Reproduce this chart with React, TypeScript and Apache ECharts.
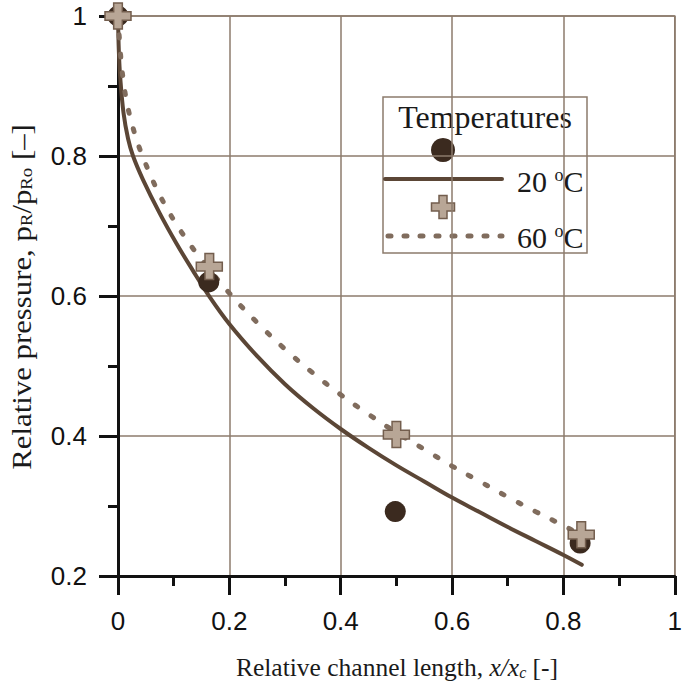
import React, { useEffect, useRef } from "react";
import * as echarts from "echarts";

// Measured points, 20 °C (circles)
const meas20X = [0, 0.163, 0.498, 0.83];
const meas20Y = [1, 0.62, 0.292, 0.247];
// Measured points, 60 °C (crosses)
const meas60X = [0, 0.164, 0.5, 0.832];
const meas60Y = [1, 0.642, 0.402, 0.259];

// Model curve, 20 °C (solid)
const curve20X = [0, 0.0015, 0.004, 0.01, 0.018, 0.027, 0.045, 0.075, 0.105, 0.134, 0.161, 0.2, 0.25, 0.3, 0.35, 0.4, 0.45, 0.5, 0.55, 0.6, 0.65, 0.7, 0.75, 0.8, 0.833];
const curve20Y = [1, 0.95, 0.912, 0.861, 0.825, 0.8, 0.766, 0.718, 0.675, 0.637, 0.603, 0.56, 0.514, 0.474, 0.44, 0.41, 0.383, 0.358, 0.335, 0.312, 0.291, 0.27, 0.25, 0.23, 0.216];

// Model curve, 60 °C (dotted)
const curve60X = [0, 0.004, 0.009, 0.016, 0.025, 0.036, 0.048, 0.063, 0.077, 0.093, 0.111, 0.129, 0.15, 0.2, 0.25, 0.3, 0.35, 0.4, 0.45, 0.5, 0.55, 0.6, 0.65, 0.7, 0.75, 0.8, 0.833];
const curve60Y = [1, 0.951, 0.911, 0.876, 0.846, 0.817, 0.792, 0.764, 0.741, 0.718, 0.695, 0.674, 0.652, 0.604, 0.562, 0.524, 0.49, 0.459, 0.431, 0.405, 0.381, 0.357, 0.335, 0.313, 0.292, 0.272, 0.258];

const legendTitle = "Temperatures";
const legendLabels = ["20 {sup|o}C", "60 {sup|o}C"];

const SOLID = "#5b4636";
const DOT = "#806c5d";
const CIRCLE = "#3b2a1f";
const PLUS_FILL = "#b8a696";
const PLUS_STROKE = "#735e4e";
const GRID = "#8c7b6c";
const SANS = "Liberation Sans";
const SERIF = "Liberation Serif";

const PLUS_PATH = "path://M8,0 H16 V8 H24 V16 H16 V24 H8 V16 H0 V8 H8 Z";

const zip = (xs: number[], ys: number[]) => xs.map((x, i) => [x, ys[i]]);

function plusPoints(cx: number, cy: number, s: number, t: number) {
  const h = s / 2;
  const a = t / 2;
  return [
    [cx - a, cy - h], [cx + a, cy - h], [cx + a, cy - a], [cx + h, cy - a],
    [cx + h, cy + a], [cx + a, cy + a], [cx + a, cy + h], [cx - a, cy + h],
    [cx - a, cy + a], [cx - h, cy + a], [cx - h, cy - a], [cx - a, cy - a],
  ];
}

export default function App() {
  const ref = useRef<HTMLDivElement>(null);
  useEffect(() => {
    if (!ref.current) return;
    const chart = echarts.init(ref.current, undefined, { renderer: "svg" });
    const axisCommon = {
      type: "value",
      min: 0,
      interval: 0.2,
      axisLine: { show: true, onZero: false, lineStyle: { color: "#111", width: 3 } },
      axisTick: { show: true, inside: false, length: 19, lineStyle: { color: "#111", width: 3 } },
      minorTick: { show: true, splitNumber: 2, length: 10, lineStyle: { color: "#111", width: 3 } },
      splitLine: { show: true, lineStyle: { color: GRID, width: 1.5 } },
      axisLabel: {
        color: "#111",
        fontFamily: SANS,
        fontSize: 26,
        formatter: (v: number) => String(Math.round(v * 10) / 10),
      },
    };
    const option: any = {
      animation: false,
      backgroundColor: "#ffffff",
      grid: {
        left: 118,
        right: 7,
        top: 16,
        bottom: 111,
        show: true,
        borderColor: GRID,
        borderWidth: 1.5,
        backgroundColor: "transparent",
      },
      xAxis: {
        ...axisCommon,
        max: 1,
        axisLabel: { ...axisCommon.axisLabel, margin: 32 },
      },
      yAxis: {
        ...axisCommon,
        min: 0.2,
        max: 1,
        axisLabel: { ...axisCommon.axisLabel, margin: 31 },
      },
      series: [
        {
          type: "line",
          data: zip(curve20X, curve20Y),
          smooth: 0.4,
          showSymbol: false,
          lineStyle: { color: SOLID, width: 4, cap: "round" },
          z: 2,
        },
        {
          type: "line",
          data: zip(curve60X, curve60Y),
          smooth: 0.4,
          showSymbol: false,
          lineStyle: { color: DOT, width: 5, type: [3, 16], cap: "round" },
          z: 2,
        },
        {
          type: "scatter",
          data: zip(meas20X, meas20Y),
          symbol: "circle",
          symbolSize: 21,
          itemStyle: { color: CIRCLE, opacity: 1 },
          z: 3,
        },
        {
          type: "scatter",
          data: zip(meas60X, meas60Y),
          symbol: PLUS_PATH,
          symbolSize: 26,
          itemStyle: { color: PLUS_FILL, borderColor: PLUS_STROKE, borderWidth: 1.5, opacity: 1 },
          z: 4,
        },
      ],
      graphic: [
        {
          type: "text",
          x: 21,
          y: 297,
          rotation: Math.PI / 2,
          scaleX: 1.1,
          style: {
            text: "Relative pressure, p{sub|R}/p{sub|Ro} [–]",
            fontFamily: SERIF,
            fontSize: 28,
            fill: "#1a1a1a",
            align: "center",
            verticalAlign: "middle",
            rich: {
              sub: { fontFamily: SERIF, fontSize: 17, fill: "#1a1a1a", padding: [11, 0, 0, 0] },
            },
          },
        },
        {
          type: "text",
          x: 397,
          y: 667,
          style: {
            text: "Relative channel length, {it|x/x}{itsub|c} [-]",
            fontFamily: SERIF,
            fontSize: 25.5,
            fill: "#1a1a1a",
            align: "center",
            verticalAlign: "middle",
            rich: {
              it: { fontFamily: SERIF, fontSize: 25.5, fontStyle: "italic", fill: "#1a1a1a" },
              itsub: { fontFamily: SERIF, fontSize: 16, fontStyle: "italic", fill: "#1a1a1a", padding: [11, 0, 0, 0] },
            },
          },
        },
        {
          type: "group",
          z: 100,
          children: [
            {
              type: "rect",
              shape: { x: 383, y: 97, width: 204, height: 156 },
              style: { fill: "#ffffff", stroke: GRID, lineWidth: 1.5 },
            },
            {
              type: "text",
              x: 485,
              y: 117,
              style: {
                text: legendTitle,
                fontFamily: SERIF,
                fontSize: 32,
                fill: "#1a1a1a",
                align: "center",
                verticalAlign: "middle",
              },
            },
            {
              type: "circle",
              shape: { cx: 443, cy: 150, r: 12 },
              style: { fill: CIRCLE },
            },
            {
              type: "line",
              shape: { x1: 385, y1: 179, x2: 502, y2: 179 },
              style: { stroke: SOLID, lineWidth: 4, lineCap: "round" },
            },
            {
              type: "text",
              x: 517,
              y: 181,
              style: {
                text: legendLabels[0],
                fontFamily: SERIF,
                fontSize: 30,
                fill: "#1a1a1a",
                align: "left",
                verticalAlign: "middle",
                rich: { sup: { fontFamily: SERIF, fontSize: 18, fill: "#1a1a1a", padding: [0, 0, 12, 0] } },
              },
            },
            {
              type: "polygon",
              shape: { points: plusPoints(443, 207, 23, 8) },
              style: { fill: PLUS_FILL, stroke: PLUS_STROKE, lineWidth: 1.5 },
            },
            {
              type: "line",
              shape: { x1: 388, y1: 236, x2: 502, y2: 236 },
              style: { stroke: DOT, lineWidth: 5, lineDash: [3, 13], lineCap: "round" },
            },
            {
              type: "text",
              x: 517,
              y: 237,
              style: {
                text: legendLabels[1],
                fontFamily: SERIF,
                fontSize: 30,
                fill: "#1a1a1a",
                align: "left",
                verticalAlign: "middle",
                rich: { sup: { fontFamily: SERIF, fontSize: 18, fill: "#1a1a1a", padding: [0, 0, 12, 0] } },
              },
            },
          ],
        },
      ],
    };
    chart.setOption(option);
    return () => chart.dispose();
  }, []);
  return (
    <div
      ref={ref}
      style={{ position: "fixed", left: 0, top: 0, width: 685, height: 687, background: "#fff" }}
    />
  );
}
